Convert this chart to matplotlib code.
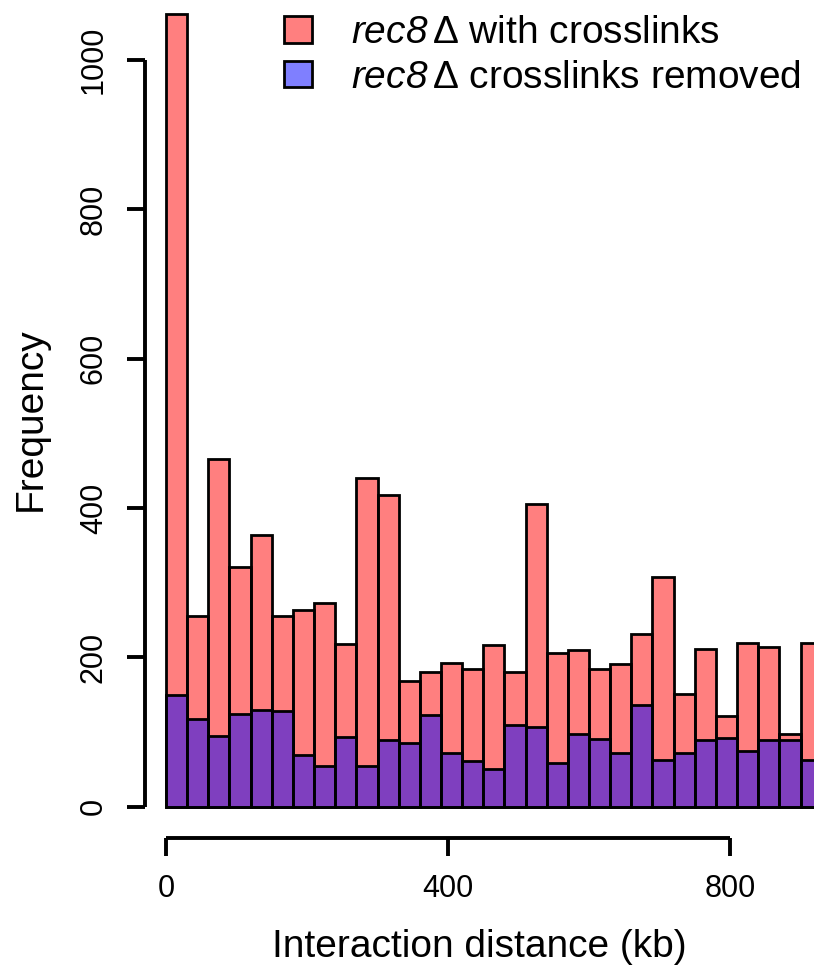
import numpy as np
import matplotlib
matplotlib.use("Agg")
import matplotlib.pyplot as plt
from matplotlib.patches import Patch

plt.rcParams["font.family"] = ["Liberation Sans", "DejaVu Sans"]
plt.rcParams["mathtext.fontset"] = "custom"
plt.rcParams["mathtext.rm"] = "Liberation Sans"
plt.rcParams["mathtext.it"] = "Liberation Sans:italic"
# \mathcal used for the italic gene name so the digit stays italic too
plt.rcParams["mathtext.cal"] = "Liberation Sans:italic"

# histogram counts per 30 kb bin
BIN_WIDTH = 30
with_crosslinks = [1061, 255, 466, 321, 364, 255, 263, 273, 218, 440, 418, 168, 180, 192,
                   184, 216, 180, 405, 206, 210, 185, 191, 231, 308, 151, 211, 121, 219,
                   214, 98, 219]
crosslinks_removed = [149, 117, 95, 124, 130, 128, 69, 55, 94, 55, 89, 85, 123, 72,
                      61, 50, 109, 107, 58, 97, 91, 72, 136, 62, 72, 89, 92, 75, 89, 89, 62]
labels = [r"$\mathcal{rec8}\,$Δ with crosslinks", r"$\mathcal{rec8}\,$Δ crosslinks removed"]
red = (1, 0, 0, 0.5)
blue = (0, 0, 1, 0.5)

left = np.arange(len(with_crosslinks)) * BIN_WIDTH

W, H = 814, 968
fig = plt.figure(figsize=(W / 100, H / 100), dpi=100)
# axes box: left spine at x=145px, bottom spine at y=838px
ax = fig.add_axes([145 / W, (H - 838) / H, 1 - 145 / W, 838 / H])

ax.bar(left, with_crosslinks, width=BIN_WIDTH, align="edge", facecolor=red,
       edgecolor="black", linewidth=2)
ax.bar(left, crosslinks_removed, width=BIN_WIDTH, align="edge", facecolor=blue,
       edgecolor="black", linewidth=2)

ax.set_xlim(-29.8, 919.1)
ax.set_ylim(-41.9, 1080.4)

for s in ("top", "right"):
    ax.spines[s].set_visible(False)
ax.spines["left"].set_bounds(0, 1000)
ax.spines["bottom"].set_bounds(0, 800)
for s in ("left", "bottom"):
    ax.spines[s].set_linewidth(2.8)
    ax.spines[s].set_capstyle("butt")

ax.set_xticks([0, 400, 800])
ax.set_yticks([0, 200, 400, 600, 800, 1000])
ax.tick_params(axis="both", length=13, width=2.8, labelsize=22, pad=13)
plt.setp(ax.get_yticklabels(), rotation=90, va="center")

ax.set_xlabel("Interaction distance (kb)", fontsize=28, labelpad=18)
ax.set_ylabel("Frequency", fontsize=28, labelpad=22)

handles = [Patch(facecolor=red, edgecolor="black", linewidth=2),
           Patch(facecolor=blue, edgecolor="black", linewidth=2)]
fig.legend(handles, labels, loc="upper left", bbox_to_anchor=(284 / W, 1 - 15 / H),
           frameon=False, fontsize=28, handlelength=0.72, handleheight=0.67,
           handletextpad=1.0, labelspacing=0.22, borderpad=0, borderaxespad=0)

fig.savefig("out.png", dpi=100)
